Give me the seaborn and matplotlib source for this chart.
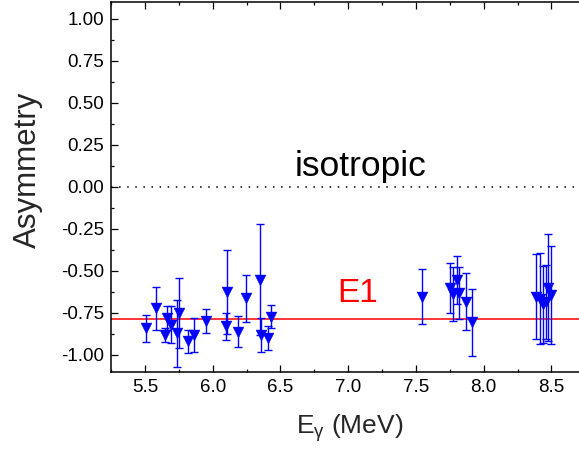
import matplotlib
matplotlib.use("Agg")
import matplotlib.pyplot as plt
from matplotlib.ticker import MultipleLocator
import numpy as np
import pandas as pd
import seaborn as sns

# ---- data ----
energy = [5.51, 5.58, 5.647, 5.66, 5.69, 5.755, 5.74, 5.82, 5.864, 5.95,
          6.105, 6.10, 6.19, 6.245, 6.35, 6.36, 6.41, 6.43,
          7.546, 7.75, 7.77, 7.80, 7.82, 7.87, 7.91,
          8.389, 8.413, 8.437, 8.46, 8.476, 8.50]
asym = [-0.841, -0.724, -0.881, -0.782, -0.821, -0.752, -0.871, -0.920, -0.881, -0.80,
        -0.624, -0.831, -0.861, -0.663, -0.554, -0.88, -0.90, -0.772,
        -0.653, -0.603, -0.637, -0.554, -0.633, -0.683, -0.807,
        -0.653, -0.667, -0.70, -0.683, -0.60, -0.643]
asym_err = [0.08, 0.13, 0.04, 0.07, 0.11, 0.21, 0.20, 0.07, 0.10, 0.07,
            0.25, 0.08, 0.09, 0.14, 0.33, 0.10, 0.07, 0.07,
            0.163, 0.15, 0.16, 0.143, 0.155, 0.17, 0.20,
            0.25, 0.27, 0.23, 0.22, 0.32, 0.29]
isotropic_level = 0.0
e1_level = -0.785
y_ticks = [-1.00, -0.75, -0.50, -0.25, 0.00, 0.25, 0.50, 0.75, 1.00]
x_ticks = [5.5, 6.0, 6.5, 7.0, 7.5, 8.0, 8.5]

df = pd.DataFrame({"E": energy, "A": asym, "err": asym_err})

sns.set_theme(style="ticks")
plt.rcParams["font.family"] = ["Liberation Sans", "DejaVu Sans"]
plt.rcParams["mathtext.fontset"] = "custom"
plt.rcParams["mathtext.rm"] = "Liberation Sans"
plt.rcParams["mathtext.it"] = "Liberation Sans"

fig = plt.figure(figsize=(5.79, 4.51), dpi=100)
ax = fig.add_axes([111 / 579, (451 - 371.7) / 451, 468 / 579, 370 / 451])

ax.errorbar(df["E"], df["A"], yerr=df["err"], fmt="none", ecolor="#0000ff",
            elinewidth=1.0, capsize=2.6, capthick=1.0, zorder=3)
sns.scatterplot(data=df, x="E", y="A", marker="v", s=62, color="#0000ff",
                edgecolor="#0000ff", linewidth=0.3, ax=ax, zorder=4)

ax.axhline(isotropic_level, color="black", lw=1.1, ls=(0, (1, 4.3)), zorder=2)
ax.axhline(e1_level, color="red", lw=1.1, zorder=2)

ax.text(7.09, 0.064, "isotropic", fontsize=25.5, ha="center", va="baseline", color="black")
ax.text(7.07, -0.683, "E1", fontsize=24, ha="center", va="baseline", color="red")

ax.set_xlim(5.25, 8.703)
ax.set_ylim(-1.1, 1.1)
ax.set_xticks(x_ticks)
ax.set_yticks(y_ticks)
ax.set_xticklabels([f"{v:.1f}" for v in x_ticks])
ax.set_yticklabels([f"{v:.2f}" for v in y_ticks])
ax.xaxis.set_minor_locator(MultipleLocator(0.25))
ax.yaxis.set_minor_locator(MultipleLocator(0.125))

ax.tick_params(which="both", direction="in", top=True, right=False, colors="black",
               labelsize=13.5, width=0.9)
ax.tick_params(which="major", length=5)
ax.tick_params(which="minor", length=2.5)
ax.tick_params(axis="y", which="major", pad=5)
ax.tick_params(axis="x", which="major", pad=5)

for side in ["left", "bottom", "top"]:
    ax.spines[side].set_visible(True)
    ax.spines[side].set_linewidth(1.1)
    ax.spines[side].set_color("black")
ax.spines["right"].set_visible(False)

ax.set_xlabel(r"E$_{\gamma}$ (MeV)", fontsize=19)
ax.xaxis.set_label_coords(0.51, -0.152)
ax.xaxis.label.set_va("center")
ax.set_ylabel("Asymmetry", fontsize=22.5)
ax.yaxis.set_label_coords(-0.178, 0.545)
ax.yaxis.label.set_va("center")

ax.set_facecolor("white")
fig.patch.set_facecolor("white")
fig.savefig("out.png", dpi=100, facecolor="white")
